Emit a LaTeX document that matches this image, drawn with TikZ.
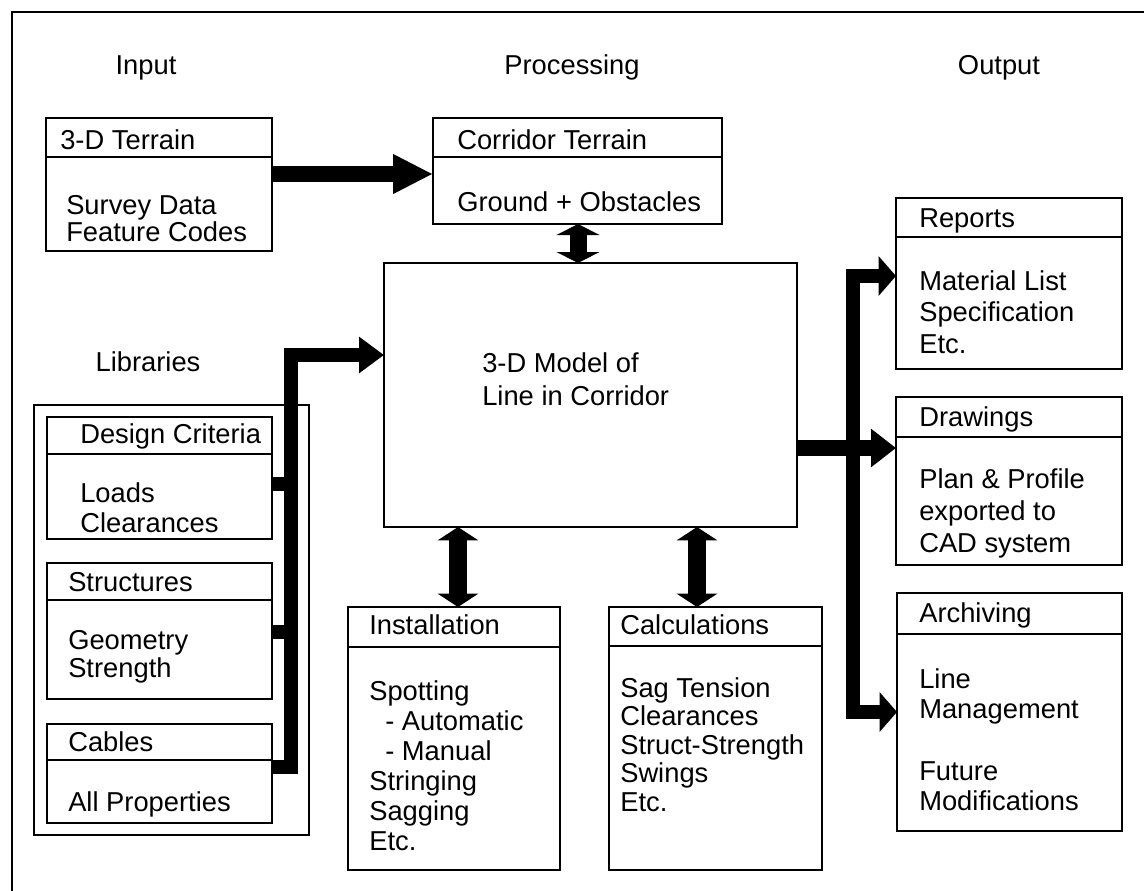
\documentclass[tikz,border=0pt]{standalone}
\usepackage{fontspec}
\setmainfont{Liberation Sans}
\usetikzlibrary{arrows.meta}
\newcommand{\dbox}[6]{%
  \node[boxst, anchor=north west, minimum width={(#4-#2)*0.75pt}, minimum height={(#5-#3)*0.75pt}] (#1) at (#2,#3) {};
  \draw[sepline] (#2,#6) -- (#4,#6);}
\begin{document}
\begin{tikzpicture}[x=0.75pt,y=-0.75pt,
  boxst/.style={draw, line width=1.1pt, inner sep=0pt, outer sep=0pt},
  sepline/.style={line width=1.1pt},
  lbl/.style={font=\fontsize{20.5}{24}\selectfont, inner sep=0pt, text depth=0pt},
  body/.style={font=\fontsize{20.5}{#1}\selectfont, inner sep=0pt, align=left, anchor=north west},
  frameline/.style={line width=1.9pt},
  fatarrow/.style={line width=12pt, -{Triangle[length=30pt,width=27.75pt]}},
  dblA/.style={line width=12.75pt, {Triangle[length=8.25pt,width=32pt]}-{Triangle[length=8.25pt,width=32pt]}},
  dblB/.style={line width=13.5pt, {Triangle[length=10pt,width=30pt]}-{Triangle[length=10pt,width=30pt]}},
  busline/.style={line width=10.5pt, line join=miter},
  busarrow/.style={busline, -{Triangle[length=18.75pt,width=26.25pt]}},
  outbus/.style={busline, {Triangle[length=13pt,width=29pt]}-{Triangle[length=13pt,width=29pt]}},
  drawarrow/.style={line width=12pt, -{Triangle[length=18.75pt,width=27.75pt]}}
]
\useasboundingbox (0,0) rectangle (1144,890);
\fill[white] (0,0) rectangle (1144,890);
\draw[frameline] (12,892) -- (12,12) -- (1146,12);

% column labels
\node[lbl] (tIn) at (146,65) {Input};
\node[lbl] (tProc) at (572,65) {Processing};
\node[lbl] (tOut) at (999,65) {Output};
\node[lbl] (tLib) at (148,362) {Libraries};

% boxes
\dbox{terrain}{46}{118}{272}{251}{157}
\dbox{corridor}{433}{118}{722}{224}{157}
\node[boxst, anchor=north west, minimum width={(797-384)*0.75pt}, minimum height={(527-263)*0.75pt}] (model) at (384,263) {};
\node[boxst, anchor=north west, minimum width={(309-34)*0.75pt}, minimum height={(835-405)*0.75pt}] (libs) at (34,405) {};
\dbox{design}{47}{417}{272}{539}{454}
\dbox{struct}{47}{563}{272}{699}{600}
\dbox{cables}{47}{724}{272}{823}{760}
\dbox{install}{348}{607}{560}{870}{647}
\dbox{calc}{609}{607}{822}{870}{646}
\dbox{reports}{896}{198}{1122}{369}{237}
\dbox{drawings}{896}{397}{1122}{565}{437}
\dbox{archive}{897}{593}{1122}{831}{634}

% texts
\node[lbl, anchor=west] (h1) at (60,140) {3-D Terrain};
\node[body=18.75] (b1) at (66,195) {Survey Data\\Feature Codes};
\node[lbl, anchor=west] (h2) at (457,140) {Corridor Terrain};
\node[lbl, anchor=west] (b2) at (457,202) {Ground + Obstacles};
\node[body=24.75] (b3) at (482,352) {3-D Model of\\Line in Corridor};
\node[lbl, anchor=west] (h4) at (80,434) {Design Criteria};
\node[body=22.5] (b4) at (80,482) {Loads\\Clearances};
\node[lbl, anchor=west] (h5) at (68,582) {Structures};
\node[body=21] (b5) at (68,630) {Geometry\\Strength};
\node[lbl, anchor=west] (h6) at (68,742) {Cables};
\node[lbl, anchor=west] (b6) at (68,802) {All Properties};
\node[lbl, anchor=west] (h7) at (369,625) {Installation};
\node[body=22.6] (b7) at (369,680) {Spotting\\\hspace*{12pt}- Automatic\\\hspace*{12pt}- Manual\\Stringing\\Sagging\\Etc.};
\node[lbl, anchor=west] (h8) at (620,625) {Calculations};
\node[body=21.4] (b8) at (620,677) {Sag Tension\\Clearances\\Struct-Strength\\Swings\\Etc.};
\node[lbl, anchor=west] (h9) at (919,218) {Reports};
\node[body=23.6] (b9) at (919,270) {Material List\\Specification\\Etc.};
\node[lbl, anchor=west] (h10) at (919,417) {Drawings};
\node[body=24] (b10) at (919,468) {Plan \& Profile\\exported to\\CAD system};
\node[lbl, anchor=west] (h11) at (919,613) {Archiving};
\node[body=22.5] (b11) at (919,668) {Line\\Management\\[24pt]Future\\Modifications};

% helper coordinates
\coordinate (hT) at (0,174);
\coordinate (vC) at (578,0);
\coordinate (vI) at (458,0);
\coordinate (vK) at (697,0);
\coordinate (busL) at (291,0);
\coordinate (hM) at (0,355);
\coordinate (hD) at (0,484);
\coordinate (hS) at (0,632);
\coordinate (hC) at (0,767);
\coordinate (busR) at (853,0);
\coordinate (hR) at (0,276);
\coordinate (hDr) at (0,448);
\coordinate (hA) at (0,712);

% connectors
\draw[fatarrow] (terrain.east |- hT) -- (corridor.west |- hT);
\draw[dblA] (corridor.south -| vC) -- (model.north -| vC);
\draw[dblB] (model.south -| vI) -- (install.north -| vI);
\draw[dblB] (model.south -| vK) -- (calc.north -| vK);
\draw[busline] (design.east |- hD) -- (busL |- hD);
\draw[busline] (struct.east |- hS) -- (busL |- hS);
\draw[busarrow] (cables.east |- hC) -- (busL |- hC) -- (busL |- hM) -- (model.west |- hM);
\draw[outbus] (reports.west |- hR) -- (busR |- hR) -- (busR |- hA) -- (archive.west |- hA);
\draw[drawarrow] (model.east |- hDr) -- (drawings.west |- hDr);
\end{tikzpicture}
\end{document}
